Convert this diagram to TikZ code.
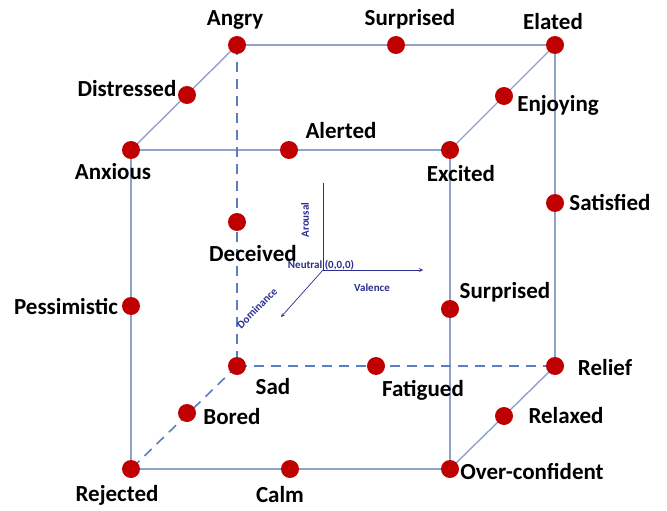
\documentclass[tikz,border=0pt]{standalone}
\usepackage{fontspec}
\setmainfont{Carlito}
\definecolor{edgeblue}{HTML}{8FA2CC}
\definecolor{hidblue}{HTML}{5A7EC4}
\definecolor{dotred}{HTML}{C00000}
\definecolor{axisblue}{HTML}{2B2E8C}
\pgfdeclarelayer{back}
\pgfsetlayers{back,main}
\begin{document}
\begin{tikzpicture}[x=1pt,y=-1pt,
  emo/.style={circle,fill=dotred,inner sep=0pt,minimum size=18pt},
  lbl/.style={font=\fontsize{23}{26}\selectfont\bfseries},
  edge/.style={line width=1.4pt,edgeblue},
  hidden/.style={line width=1.6pt,hidblue,dash pattern=on 10pt off 7pt},
  ax/.style={axisblue,line width=0.7pt},
  axlbl/.style={axisblue,font=\fontsize{11}{13}\selectfont\bfseries}]
\useasboundingbox (0,0) rectangle (667,511);
%%% the eight corners of the cube
\node[emo] (angry) at (237,45) {};
\node[emo] (elated) at (555,45) {};
\node[emo] (anxious) at (131,150) {};
\node[emo] (excited) at (450,150) {};
\node[emo] (sad) at (237,366) {};
\node[emo] (relief) at (555,366) {};
\node[emo] (rejected) at (131,469) {};
\node[emo] (overconf) at (450,469) {};
%%% points on the edges
\node[emo] (surprisedtop) at (396,45) {};
\node[emo] (distressed) at (187,95) {};
\node[emo] (enjoying) at (504,96) {};
\node[emo] (alerted) at (289,150) {};
\node[emo] (satisfied) at (555,203) {};
\node[emo] (deceived) at (237,222) {};
\node[emo] (pessimistic) at (131,306) {};
\node[emo] (surprisedright) at (450,309) {};
\node[emo] (fatigued) at (376,366) {};
\node[emo] (bored) at (187,413) {};
\node[emo] (relaxed) at (504,416) {};
\node[emo] (calm) at (290,469) {};
% \node[emo] (neutral) at (323,270) {};
%%% edges behind the dots
\begin{pgfonlayer}{back}
\draw[edge] (angry.center) -- (elated.center);
\draw[edge] (angry.center) -- (anxious.center);
\draw[edge] (elated.center) -- (excited.center);
\draw[edge] (anxious.center) -- (excited.center);
\draw[edge] (elated.center) -- (relief.center);
\draw[edge] (anxious.center) -- (rejected.center);
\draw[edge] (excited.center) -- (overconf.center);
\draw[edge] (rejected.center) -- (overconf.center);
\draw[edge] (relief.center) -- (overconf.center);
\draw[hidden] (angry.center) -- (sad.center);
\draw[hidden] (sad.center) -- (relief.center);
\draw[hidden] (sad.center) -- (rejected.center);
\end{pgfonlayer}
%%% labels
\node[lbl] (angry-l) at (235,20) {Angry};
\node[lbl] (elated-l) at (553,22) {Elated};
\node[lbl] (anxious-l) at (113,172) {Anxious};
\node[lbl] (excited-l) at (461,174) {Excited};
\node[lbl] (sad-l) at (273,387) {Sad};
\node[lbl] (relief-l) at (605,368) {Relief};
\node[lbl] (rejected-l) at (117,495) {Rejected};
\node[lbl] (overconf-l) at (532,471) {Over-confident};
\node[lbl] (surprisedtop-l) at (410,19) {Surprised};
\node[lbl] (distressed-l) at (127,89) {Distressed};
\node[lbl] (enjoying-l) at (558,105) {Enjoying};
\node[lbl] (alerted-l) at (341,131) {Alerted};
\node[lbl] (satisfied-l) at (610,202) {Satisfied};
\node[lbl] (deceived-l) at (253,254) {Deceived};
\node[lbl] (pessimistic-l) at (66,306) {Pessimistic};
\node[lbl] (surprisedright-l) at (505,292) {Surprised};
\node[lbl] (fatigued-l) at (423,390) {Fatigued};
\node[lbl] (bored-l) at (232,417) {Bored};
\node[lbl] (relaxed-l) at (566,416) {Relaxed};
\node[lbl] (calm-l) at (280,495) {Calm};
%%% the three axes through the neutral point
\coordinate (origin) at (323,270);
\coordinate (arousal) at (323,183);
\coordinate (valence) at (423,270);
\coordinate (dominance) at (281,317);
\draw[ax] (origin) -- (arousal);
\draw[ax,-stealth] (origin) -- (valence);
\draw[ax,-stealth] (origin) -- (dominance);
\node[axlbl] (neutral-l) at (321,265) {Neutral (0,0,0)};
\node[axlbl,rotate=90] (arousal-l) at (305,220) {Arousal};
\node[axlbl] (valence-l) at (372,288) {Valence};
\node[axlbl,rotate=45] (dominance-l) at (257,308) {Dominance};
\end{tikzpicture}
\end{document}
